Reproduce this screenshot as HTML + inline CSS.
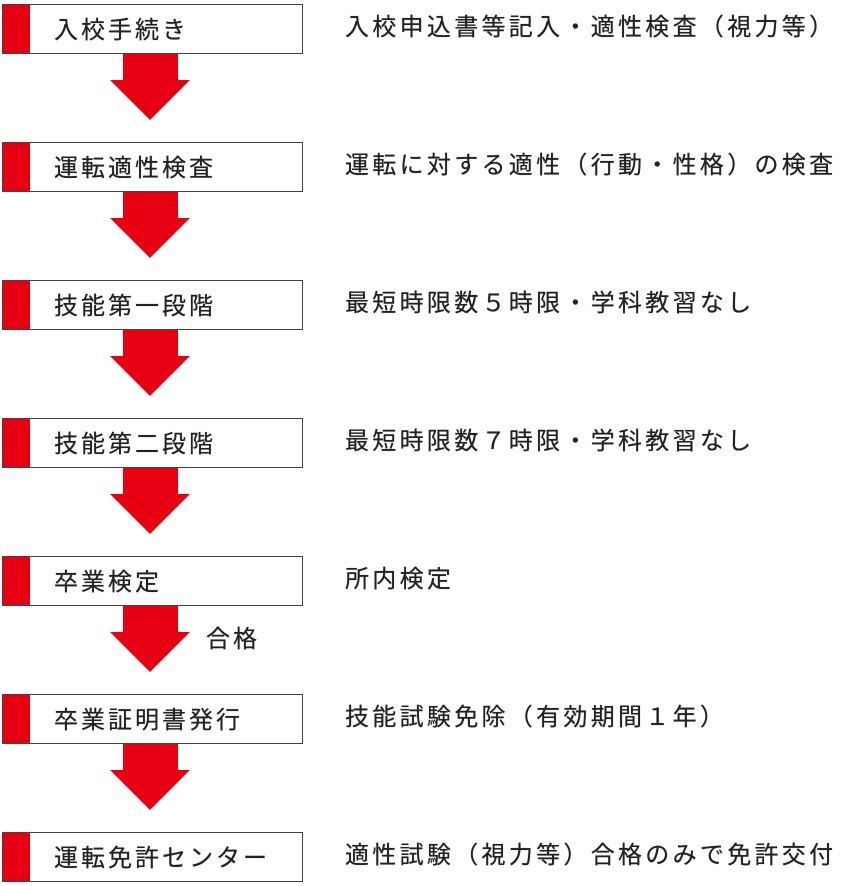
<!DOCTYPE html>
<html><head><meta charset="utf-8"><style>
body{margin:0;width:844px;height:886px;background:#fff;position:relative;overflow:hidden;font-family:"Liberation Sans","Noto Sans CJK JP",sans-serif;color:#222}
.box{position:absolute;left:2px;width:299px;height:48px;border:1.5px solid #444;background:#fff;box-sizing:content-box}
.box .bar{position:absolute;left:0;top:0;width:27px;height:100%;background:#e60012}
.box span{position:absolute;left:51px;top:2px;line-height:48px;font-size:24px;letter-spacing:3px;white-space:nowrap;text-shadow:0 0 0.6px #222}
.desc{position:absolute;left:345px;font-size:24px;line-height:48px;letter-spacing:3.3px;white-space:nowrap;text-shadow:0 0 0.6px #222}
svg{position:absolute;left:0;top:0}
</style></head><body>
<svg width="844" height="886">
<g fill="#e60012">
<polygon points="123,54 178,54 178,80 190,80 150,120 110,80 123,80"/>
<polygon points="123,192 178,192 178,218 190,218 150,258 110,218 123,218"/>
<polygon points="123,330 178,330 178,356 190,356 150,396 110,356 123,356"/>
<polygon points="123,468 178,468 178,494 190,494 150,534 110,494 123,494"/>
<polygon points="123,606 178,606 178,632 190,632 150,672 110,632 123,632"/>
<polygon points="123,744 178,744 178,770 190,770 150,810 110,770 123,770"/>
</g>
</svg>
<div class="box" style="top:4px"><div class="bar"></div><span>入校手続き</span></div>
<div class="box" style="top:142px"><div class="bar"></div><span>運転適性検査</span></div>
<div class="box" style="top:280px"><div class="bar"></div><span>技能第一段階</span></div>
<div class="box" style="top:418px"><div class="bar"></div><span>技能第二段階</span></div>
<div class="box" style="top:556px"><div class="bar"></div><span>卒業検定</span></div>
<div class="box" style="top:694px"><div class="bar"></div><span>卒業証明書発行</span></div>
<div class="box" style="top:832px"><div class="bar"></div><span>運転免許センター</span></div>
<div class="desc" style="top:4px">入校申込書等記入・適性検査（視力等）</div>
<div class="desc" style="top:142px">運転に対する適性（行動・性格）の検査</div>
<div class="desc" style="top:280px">最短時限数５時限・学科教習なし</div>
<div class="desc" style="top:418px">最短時限数７時限・学科教習なし</div>
<div class="desc" style="top:556px">所内検定</div>
<div class="desc" style="top:694px">技能試験免除（有効期間１年）</div>
<div class="desc" style="top:832px">適性試験（視力等）合格のみで免許交付</div>
<div style="position:absolute;left:206px;top:616px;font-size:24px;line-height:48px;letter-spacing:3px;text-shadow:0 0 0.6px #222">合格</div>
</body></html>
